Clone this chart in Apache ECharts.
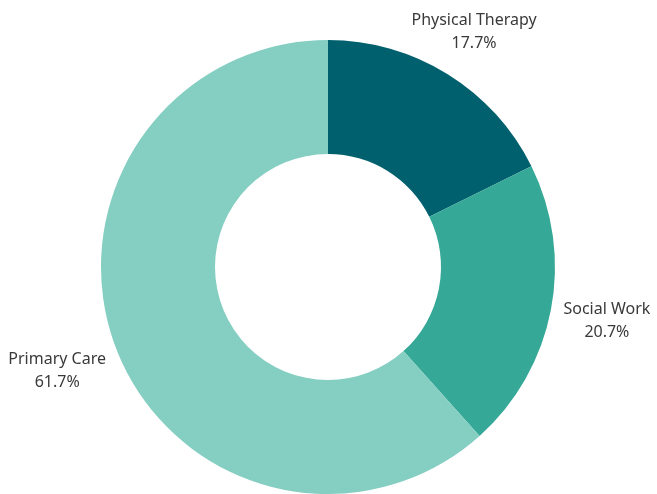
<!DOCTYPE html>
<html>
<head>
<meta charset="utf-8">
<script src="https://cdn.jsdelivr.net/npm/echarts@6/dist/echarts.min.js"></script>
<style>
  html, body { margin: 0; padding: 0; background: #fff; }
  #chart { width: 657px; height: 494px; }
</style>
</head>
<body>
<div id="chart"></div>
<script>
const categories = ['Physical Therapy', 'Social Work', 'Primary Care'];
const values = [17.7, 20.7, 61.7];
const colors = ['#00606E', '#36A897', '#84CEC2'];
const labelDist = [277, 284, 290];

const cx = 328, cy = 267;

const getOption = () => {
    const total = values.reduce((a, b) => a + b, 0);
    // mid angle of every slice (clockwise from 12 o'clock)
    let acc = 0;
    const mids = values.map(v => {
        const m = (acc + v / 2) / total * Math.PI * 2;
        acc += v;
        return m;
    });
    return {
        animation: false,
        series: [
            {
                type: 'pie',
                center: [cx, cy],
                radius: [113, 227],
                startAngle: 90,
                clockwise: true,
                label: {
                    show: true,
                    position: 'outside',
                    formatter: p => p.name + '\n' + p.value.toFixed(1) + '%',
                    fontFamily: 'Noto Sans',
                    fontSize: 16,
                    lineHeight: 23,
                    color: '#3a3a3a',
                    overflow: 'none',
                    edgeDistance: 0
                },
                labelLine: { show: false },
                labelLayout: params => {
                    const a = mids[params.dataIndex];
                    const d = labelDist[params.dataIndex];
                    return {
                        x: cx + d * Math.sin(a),
                        y: cy - d * Math.cos(a),
                        align: 'center',
                        verticalAlign: 'middle'
                    };
                },
                emphasis: { disabled: true },
                data: categories.map((c, i) => ({
                    name: c,
                    value: values[i],
                    itemStyle: { color: colors[i] }
                }))
            }
        ]
    };
};

window.addEventListener('load', () => {
    const chart = echarts.init(document.getElementById('chart'));
    chart.setOption(getOption());
});
</script>
</body>
</html>
